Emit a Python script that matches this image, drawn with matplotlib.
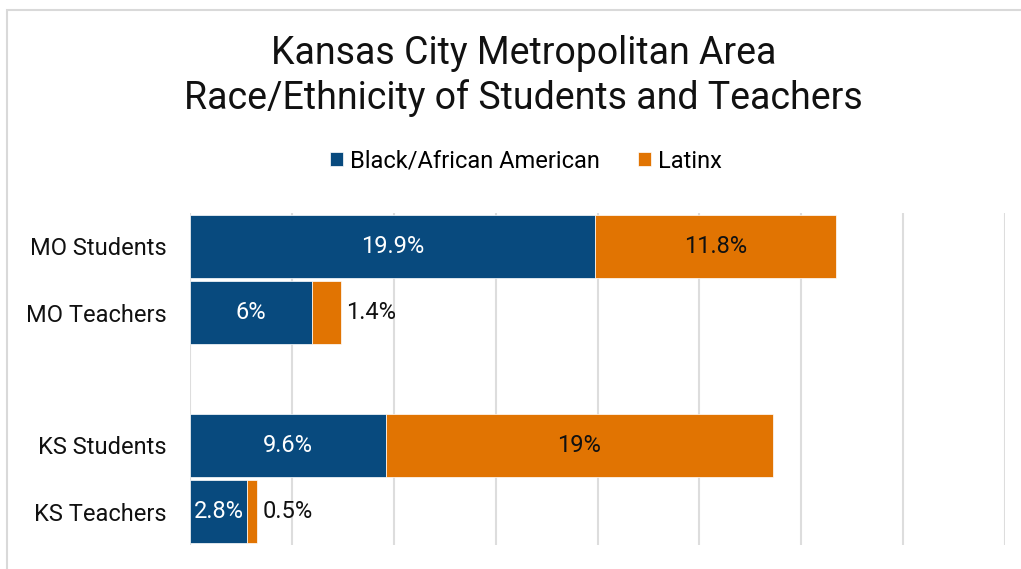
import numpy as np
import matplotlib
matplotlib.use("Agg")
import matplotlib.pyplot as plt
from matplotlib.patches import Rectangle

plt.rcParams['font.family'] = ['Roboto', 'DejaVu Sans']

categories = ["MO Students", "MO Teachers", "KS Students", "KS Teachers"]
black_vals = [19.9, 6.0, 9.6, 2.8]
latinx_vals = [11.8, 1.4, 19.0, 0.5]
black_labels = ["19.9%", "6%", "9.6%", "2.8%"]
latinx_labels = ["11.8%", "1.4%", "19%", "0.5%"]

BLUE = "#084A7E"
ORANGE = "#E17402"
GRID = "#DDDDDD"
TXT = "#111111"

fig = plt.figure(figsize=(10.21, 5.69), dpi=100)
# light frame round the chart area
fig.patches.append(Rectangle((7 / 1021, -0.05), 1.1, 1.05 - 10 / 569,
                             transform=fig.transFigure, fill=False,
                             edgecolor="#D9D9D9", linewidth=1.5))

ax = fig.add_axes([190 / 1021, 1 - 545 / 569, (1005 - 190) / 1021, (545 - 213) / 569])

# two groups with an empty slot between them
ypos = np.array([0, 1, 3, 4])
h = 0.95
b1 = ax.barh(ypos, black_vals, height=h, color=BLUE, edgecolor="white",
             linewidth=0.5, label="Black/African American", zorder=3)
b2 = ax.barh(ypos, latinx_vals, left=black_vals, height=h, color=ORANGE,
             edgecolor="white", linewidth=0.5, label="Latinx", zorder=3)

fs = 17
for i in range(len(categories)):
    ax.text(black_vals[i] / 2, ypos[i], black_labels[i], ha="center", va="center",
            color="white", fontsize=fs, zorder=4)
    if latinx_vals[i] > 3:
        ax.text(black_vals[i] + latinx_vals[i] / 2, ypos[i], latinx_labels[i],
                ha="center", va="center", color=TXT, fontsize=fs, zorder=4)
    else:
        ax.annotate(latinx_labels[i], (black_vals[i] + latinx_vals[i], ypos[i]),
                    xytext=(4, 0), textcoords="offset points", ha="left",
                    va="center", color=TXT, fontsize=fs)

ax.set_xlim(0, 40)
ax.set_ylim(4.5, -0.5)
ax.set_xticks(np.arange(0, 41, 5))
ax.set_xticklabels([])
ax.set_yticks(ypos)
ax.set_yticklabels(categories, fontsize=fs, color=TXT)
ax.tick_params(axis="both", length=0)
ax.tick_params(axis="y", pad=17)
ax.grid(axis="x", color=GRID, linewidth=1.5, zorder=0)
for s in ax.spines.values():
    s.set_visible(False)

fig.text(0.513, 1 - 76 / 569, "Kansas City Metropolitan Area\nRace/Ethnicity of Students and Teachers",
         ha="center", va="center", fontsize=27, color=TXT, linespacing=1.22)

fig.legend(handles=[b1, b2], loc="center", bbox_to_anchor=(0.515, 1 - 161 / 569),
           ncol=2, frameon=False, fontsize=fs, handlelength=0.55, handleheight=0.55,
           columnspacing=1.6, handletextpad=0.3)

fig.savefig("out.png", dpi=100)
